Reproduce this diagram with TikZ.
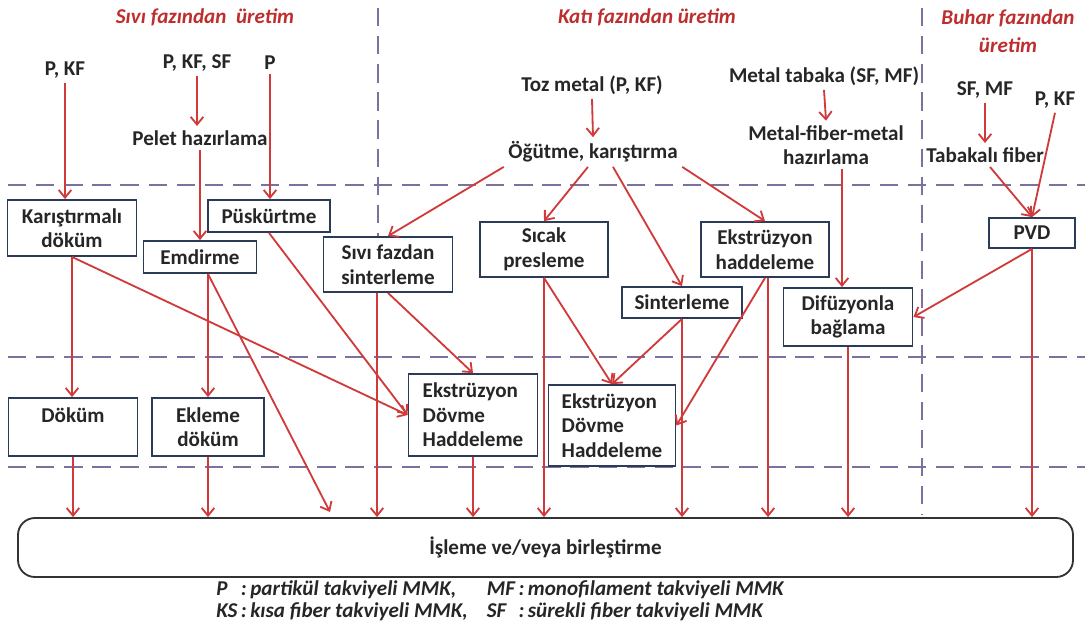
\documentclass[tikz,border=0pt]{standalone}
\usepackage{fontspec}
\setmainfont{Carlito}
\usetikzlibrary{arrows.meta,positioning,calc}
\definecolor{arrred}{HTML}{D03A3A}
\definecolor{hdrred}{HTML}{BE2E2E}
\definecolor{dashpurp}{HTML}{7C709F}
\definecolor{boxnavy}{HTML}{2C3C58}
\definecolor{txtgray}{HTML}{262626}
\begin{document}
\begin{tikzpicture}[x=.025cm,y=-.025cm,font=\fontsize{15}{17.5}\selectfont\bfseries,
lbl/.style={inner sep=3pt,text=txtgray,align=center},
proc/.style 2 args={draw=boxnavy,line width=1.3pt,fill=white,text=txtgray,inner sep=0pt,align=center,minimum width=#1*0.025cm,minimum height=#2*0.025cm},
hdr/.style={text=hdrred,font=\fontsize{15}{20}\selectfont\bfseries\itshape,align=center},
arr/.style={arrred,line width=1.3pt,-{Straight Barb[length=5.5pt,width=9pt]}},
sepline/.style={dashpurp,line width=1.4pt,dash pattern=on 13pt off 7pt}]
\useasboundingbox (0,0) rectangle (1089,625);
\draw[sepline] (8,185)--(1085,185);
\draw[sepline] (8,357)--(1085,357);
\draw[sepline] (8,467)--(1085,467);
\draw[sepline] (378,8)--(378,237);
\draw[sepline] (922,8)--(922,515);
\node[hdr] (hdrsivi) at (205,17){Sıvı fazından\ \ üretim};
\node[hdr] (hdrkati) at (647,17){Katı fazından üretim};
\node[hdr] (hdrbuhar) at (1008,31){Buhar fazından\\üretim};
\node[lbl] (pkfa) at (65,70){P, KF};
\node[lbl] (pkfsf) at (197,63){P, KF, SF};
\node[lbl] (pone) at (270,63){P};
\node[lbl] (pelet) at (200,138){Pelet hazırlama};
\node[lbl] (toz) at (592,85){Toz metal (P, KF)};
\node[lbl] (ogut) at (593,152){Öğütme, karıştırma};
\node[lbl] (tabaka) at (824,76){Metal tabaka (SF, MF)};
\node[lbl] (mfm) at (826,145){Metal-fiber-metal\\hazırlama};
\node[lbl] (sfmf) at (985,90){SF, MF};
\node[lbl] (pkfb) at (1055,100){P, KF};
\node[lbl] (tabfib) at (985,155){Tabakalı fiber};
\node[proc={129}{56}] (karis) at (72,228){Karıştırmalı\\döküm};
\node[proc={113}{32}] (emdir) at (200,257){Emdirme};
\node[proc={122}{32}] (puskur) at (269,216){Püskürtme};
\node[proc={129}{55}] (sivisin) at (388,264.5){Sıvı fazdan\\sinterleme};
\node[proc={128}{55}] (sicak) at (544,249.5){Sıcak\\presleme};
\node[proc={120}{31}] (sinter) at (682,302.5){Sinterleme};
\node[proc={128}{55}] (ekshad) at (765,249.5){Ekstrüzyon\\haddeleme};
\node[proc={129}{58}] (difuz) at (848,317){Difüzyonla\\bağlama};
\node[proc={86}{30}] (pvd) at (1032,233){PVD};
\node[proc={129}{58}] (dokum) at (73,427){Döküm\\\phantom{d}};
\node[proc={112}{58}] (ekleme) at (208,427){Ekleme\\döküm};
\node[proc={129}{82},align=left] (eksa) at (473,415){Ekstrüzyon\\Dövme\\Haddeleme};
\node[proc={127}{81},align=left] (eksb) at (612,425.5){Ekstrüzyon\\Dövme\\Haddeleme};
\node[draw=black!80,line width=1.3pt,rounded corners=12pt,minimum width=1055*0.025cm,minimum height=59*0.025cm,text=txtgray] (isleme) at (545.5,547.5){İşleme ve/veya birleştirme};
\node[anchor=west,text=txtgray,font=\fontsize{15}{15.5}\selectfont\bfseries\itshape,inner sep=0pt] (legend) at (216,602){\begin{tabular}{@{}l@{\,:\,}l@{\hspace{0.9em}}l@{\,:\,}l@{}}P&partikül takviyeli MMK,&MF&monofilament takviyeli MMK\\KS&kısa fiber takviyeli MMK,&SF&sürekli fiber takviyeli MMK\end{tabular}};
\coordinate (emdirend) at (330,512);
\coordinate (sivisout) at ($(sivisin.south)+(-11,0)$);
\coordinate (mfmout) at ($(mfm.south)+(16,0)$);
\coordinate (ekshout) at ($(ekshad.south)+(3,0)$);
\draw[arr] (pkfa.south)--(pkfa.south |- karis.north);
\draw[arr] (pkfsf.south)--(pkfsf.south |- pelet.north);
\draw[arr] (pelet.south)--(pelet.south |- emdir.north);
\draw[arr] (pone.south)--(pone.south |- puskur.north);
\draw[arr] (karis.south)--(karis.south |- dokum.north);
\draw[arr] (karis.south)--(eksa.west);
\draw[arr] (puskur.south)--(eksa.west);
\draw[arr] (ekleme.north |- emdir.south)--(ekleme.north);
\draw[arr] (ekleme.north |- emdir.south)--(emdirend);
\draw[arr] (sivisout)--(sivisout |- isleme.north);
\draw[arr] (sivisin.south)--(eksa.north);
\draw[arr] (toz.south)--(ogut.north);
\draw[arr] (ogut.south west)--(sivisin.north);
\draw[arr] ($(ogut.south)+(-5,0)$)--(sicak.north);
\draw[arr] ($(ogut.south)+(20,0)$)--(sinter.north);
\draw[arr] (ogut.south east)--(ekshad.north);
\draw[arr] (sicak.south)--(eksb.north);
\draw[arr] (sinter.south)--(eksb.north);
\draw[arr] (ekshad.south)--(eksb.east);
\draw[arr] (tabaka.south)--(mfm.north);
\draw[arr] (mfmout)--(mfmout |- difuz.north);
\draw[arr] (sfmf.south)--(tabfib.north);
\draw[arr] ($(tabfib.south)+(5,0)$)--(pvd.north);
\draw[arr] (pkfb.south)--(pvd.north);
\draw[arr] (pvd.south)--(difuz.east);
\draw[arr] (dokum.south)--(dokum.south |- isleme.north);
\draw[arr] (ekleme.south)--(ekleme.south |- isleme.north);
\draw[arr] (eksa.south)--(eksa.south |- isleme.north);
\draw[arr] (sicak.south)--(sicak.south |- isleme.north);
\draw[arr] (sinter.south)--(sinter.south |- isleme.north);
\draw[arr] (ekshout)--(ekshout |- isleme.north);
\draw[arr] (difuz.south)--(difuz.south |- isleme.north);
\draw[arr] (pvd.south)--(pvd.south |- isleme.north);
\end{tikzpicture}
\end{document}
